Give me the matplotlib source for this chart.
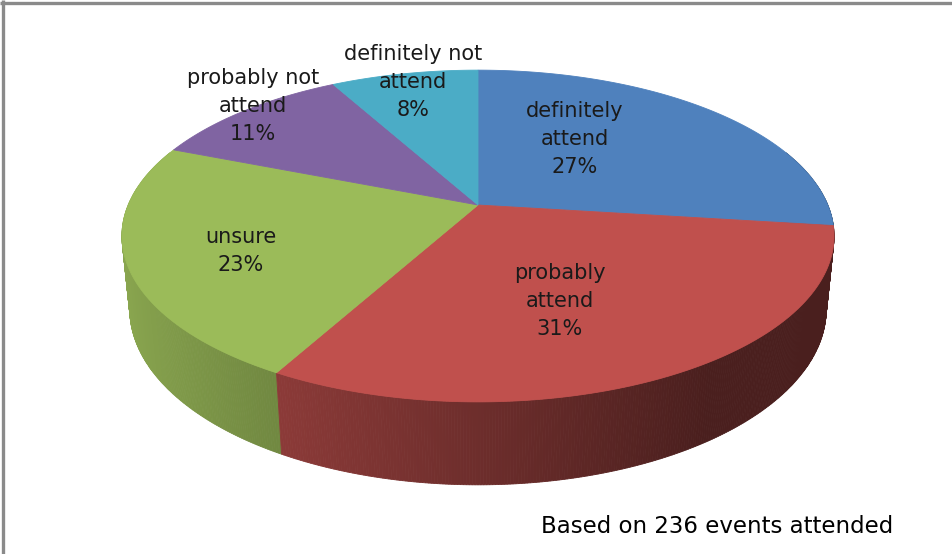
import numpy as np
import matplotlib
matplotlib.use("Agg")
import matplotlib.pyplot as plt
from matplotlib.patches import Polygon
from matplotlib.colors import to_rgb

# Survey answers, clockwise from twelve o'clock
categories = ["definitely\nattend", "probably\nattend", "unsure",
              "probably not\nattend", "definitely not\nattend"]
shares = [27, 31, 23, 11, 8]
colors = ["#4F81BD", "#C0504D", "#9BBB59", "#8064A2", "#4BACC6"]
footnote = "Based on 236 events attended"

# Label anchor points (pixel layout)
label_xy = [(575, 139), (560, 301), (241, 251), (253, 106), (413, 82)]

W, H = 953, 554
fig = plt.figure(figsize=(W / 100, H / 100), dpi=100)
ax = fig.add_axes([0, 0, 1, 1])
ax.set_xlim(0, W)
ax.set_ylim(H, 0)
ax.axis("off")

# Perspective camera for the tilted disc
CX, CY = 478.0, 205.0
KX, KY = 1672.0, 1703.0
DIST = 4.78
ELEV = np.radians(26.7)
THICK = 0.231


def project(x, y, z):
    s, c = np.sin(ELEV), np.cos(ELEV)
    up = y * c - z * s
    depth = DIST - (y * s + z * c)
    return CX + KX * x / depth, CY - KY * up / depth


total = float(sum(shares))
bounds = np.concatenate([[0.0], np.cumsum(shares)]) / total * 2 * np.pi
step = np.radians(0.4)

# Outer walls, drawn back to front
quads = []
for i in range(len(shares)):
    a0, a1 = bounds[i], bounds[i + 1]
    n = max(int(np.ceil((a1 - a0) / step)), 2)
    th = np.linspace(a0, a1, n + 1)
    base = np.array(to_rgb(colors[i]))
    for t0, t1 in zip(th[:-1], th[1:]):
        tm = 0.5 * (t0 + t1)
        zc = -np.cos(tm)
        if zc < -0.35:
            continue
        xs = np.array([np.sin(t0), np.sin(t1), np.sin(t1), np.sin(t0)])
        ys = np.array([0.0, 0.0, -THICK, -THICK])
        zs = np.array([-np.cos(t0), -np.cos(t1), -np.cos(t1), -np.cos(t0)])
        px, py = project(xs, ys, zs)
        shade = np.clip(0.57 - 0.33 * np.sin(tm), 0.385, 0.92)
        quads.append((zc, np.column_stack([px, py]), base * shade))

quads.sort(key=lambda q: q[0])
for _, pts, col in quads:
    ax.add_patch(Polygon(pts, closed=True, facecolor=col, edgecolor=col,
                         linewidth=0.6, antialiased=True))

# Top faces
for i in range(len(shares)):
    th = np.linspace(bounds[i], bounds[i + 1], 200)
    px, py = project(np.sin(th), np.zeros_like(th), -np.cos(th))
    vx, vy = project(0.0, 0.0, 0.0)
    pts = np.vstack([[vx, vy], np.column_stack([px, py])])
    ax.add_patch(Polygon(pts, closed=True, facecolor=colors[i],
                         edgecolor=colors[i], linewidth=0.6))

# Data labels
for cat, val, (lx, ly) in zip(categories, shares, label_xy):
    ax.text(lx, ly, f"{cat}\n{val}%", ha="center", va="center",
            fontsize=15, linespacing=1.5, color="#1a1a1a",
            family="DejaVu Sans")

ax.text(541, 533, footnote, ha="left", va="baseline", fontsize=16.5,
        color="#000000", family="DejaVu Sans")

# Frame along the top and left edges
ax.plot([0, W], [2.5, 2.5], color="#8a8a8a", linewidth=2.4,
        solid_capstyle="butt")
ax.plot([3, 3], [0, H], color="#8a8a8a", linewidth=2.4,
        solid_capstyle="butt")

fig.savefig("out.png", dpi=100)
